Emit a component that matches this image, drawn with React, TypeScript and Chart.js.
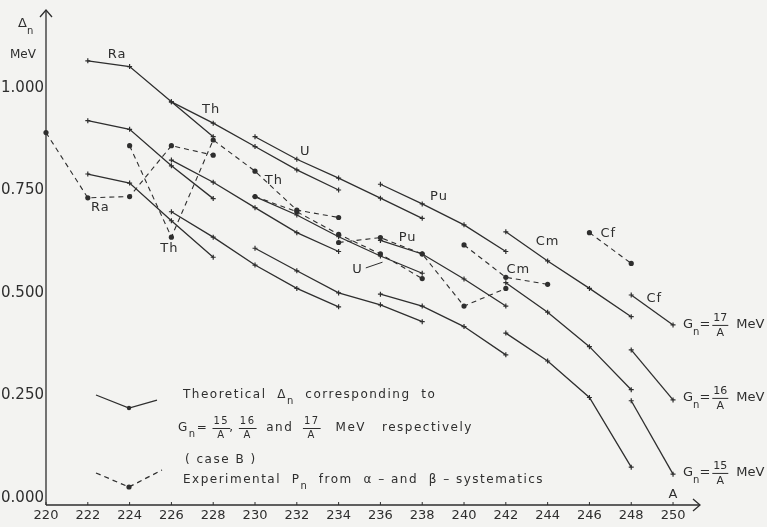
import React, { useEffect, useRef } from "react";
import { Chart, registerables } from "chart.js";

Chart.register(...registerables);

// ---------- axis ticks ----------
const A_TICKS = [220, 222, 224, 226, 228, 230, 232, 234, 236, 238, 240, 242, 244, 246, 248, 250];
const Y_TICKS = [0, 0.25, 0.5, 0.75, 1.0];
const Y_TICK_LABELS = ["0.000", "0.250", "0.500", "0.750", "1.000"];

// ---------- theoretical Δn (case B), Gn = 15/A, 16/A, 17/A ----------
const RA_A = [222, 224, 226, 228];
const RA_G15 = [0.795, 0.773, 0.681, 0.592];
const RA_G16 = [0.925, 0.904, 0.815, 0.735];
const RA_G17 = [1.071, 1.057, 0.971, 0.886];

const TH_A = [226, 228, 230, 232, 234];
const TH_G15 = [0.703, 0.641, 0.573, 0.516, 0.471];
const TH_G16 = [0.829, 0.775, 0.713, 0.652, 0.606];
const TH_G17 = [0.971, 0.919, 0.862, 0.805, 0.756];

const U_A = [230, 232, 234, 236, 238];
const U_G15 = [0.614, 0.559, 0.505, 0.476, 0.435];
const U_G16 = [0.740, 0.695, 0.642, 0.595, 0.553];
const U_G17 = [0.886, 0.831, 0.785, 0.736, 0.687];

const PU_A = [236, 238, 240, 242];
const PU_G15 = [0.502, 0.473, 0.423, 0.354];
const PU_G16 = [0.633, 0.600, 0.539, 0.473];
const PU_G17 = [0.770, 0.722, 0.671, 0.606];

const CM_A = [242, 244, 246, 248];
const CM_G15 = [0.407, 0.339, 0.250, 0.080];
const CM_G16 = [0.530, 0.458, 0.374, 0.269];
const CM_G17 = [0.654, 0.583, 0.516, 0.447];

const CF_A = [248, 250];
const CF_G15 = [0.242, 0.063];
const CF_G16 = [0.366, 0.244];
const CF_G17 = [0.500, 0.427];

// ---------- experimental Pn (α- and β-systematics) ----------
const RA_EXP_A = [220, 222, 224, 226, 228];
const RA_EXP = [0.896, 0.737, 0.740, 0.864, 0.841];
const TH_EXP_A = [224, 226, 228, 230, 232, 234];
const TH_EXP = [0.864, 0.641, 0.878, 0.802, 0.707, 0.689];
const U_EXP_A = [230, 232, 234, 236, 238];
const U_EXP = [0.740, 0.703, 0.648, 0.600, 0.540];
const PU_EXP_A = [234, 236, 238, 240, 242];
const PU_EXP = [0.628, 0.640, 0.600, 0.473, 0.516];
const CM_EXP_A = [240, 242, 244];
const CM_EXP = [0.622, 0.543, 0.526];
const CF_EXP_A = [246, 248];
const CF_EXP = [0.652, 0.577];

// ---------- element labels (data coordinates) ----------
const LABEL_TEXT = ["Ra", "Th", "U", "Pu", "Cm", "Cf", "Cf", "Cm", "Pu", "U", "Th", "Ra", "Th"];
const LABEL_A = [223.4, 227.9, 232.4, 238.8, 244.0, 246.9, 249.1, 242.6, 237.3, 234.9, 230.9, 222.6, 225.9];
const LABEL_V = [1.085, 0.951, 0.849, 0.739, 0.629, 0.649, 0.490, 0.563, 0.641, 0.563, 0.780, 0.712, 0.612];

// ---------- right-hand G labels ----------
const G_NUM = ["17", "16", "15"];
const G_V = [0.427, 0.249, 0.066];

const INK = "#2e2e2e";
const BG = "#f3f3f1";
const FONT = '"DejaVu Sans", sans-serif';

type Seg = string | number | { sub: string } | { num: string; den: string };

function drawRich(ctx: CanvasRenderingContext2D, x: number, y: number, segs: Seg[], size: number) {
  let cx = x;
  ctx.textBaseline = "middle";
  ctx.textAlign = "left";
  for (const s of segs) {
    if (typeof s === "number") {
      cx += s;
      continue;
    }
    if (typeof s === "string") {
      ctx.font = `${size}px ${FONT}`;
      ctx.fillText(s, cx, y);
      cx += ctx.measureText(s).width;
    } else if ("sub" in s) {
      ctx.font = `${Math.round(size * 0.8)}px ${FONT}`;
      ctx.fillText(s.sub, cx, y + size * 0.55);
      cx += ctx.measureText(s.sub).width;
    } else {
      ctx.font = `${Math.round(size * 0.85)}px ${FONT}`;
      const w = Math.max(ctx.measureText(s.num).width, ctx.measureText(s.den).width);
      ctx.textAlign = "center";
      ctx.fillText(s.num, cx + w / 2, y - size * 0.55);
      ctx.fillText(s.den, cx + w / 2, y + size * 0.6);
      ctx.textAlign = "left";
      ctx.beginPath();
      ctx.moveTo(cx - 1, y + 0.5);
      ctx.lineTo(cx + w + 1, y + 0.5);
      ctx.lineWidth = 1;
      ctx.stroke();
      cx += w;
    }
  }
}

const overlay = {
  id: "overlay",
  beforeDraw(chart: any) {
    const ctx = chart.ctx as CanvasRenderingContext2D;
    ctx.save();
    ctx.fillStyle = BG;
    ctx.fillRect(0, 0, chart.width, chart.height);
    ctx.restore();
  },
  afterDraw(chart: any) {
    const ctx = chart.ctx as CanvasRenderingContext2D;
    const xs = chart.scales.x;
    const ys = chart.scales.y;
    const ca = chart.chartArea;
    ctx.save();
    ctx.strokeStyle = INK;
    ctx.fillStyle = INK;
    ctx.lineWidth = 1.3;
    ctx.setLineDash([]);

    // axes
    ctx.beginPath();
    ctx.moveTo(ca.left, ca.bottom);
    ctx.lineTo(ca.right, ca.bottom);
    ctx.moveTo(ca.left, ca.bottom);
    ctx.lineTo(ca.left, ca.top);
    ctx.stroke();
    // arrow heads
    ctx.beginPath();
    ctx.moveTo(ca.right - 7, ca.bottom - 6);
    ctx.lineTo(ca.right, ca.bottom);
    ctx.lineTo(ca.right - 7, ca.bottom + 6);
    ctx.moveTo(ca.left - 6, ca.top + 7);
    ctx.lineTo(ca.left, ca.top);
    ctx.lineTo(ca.left + 6, ca.top + 7);
    ctx.stroke();

    // x ticks + labels
    ctx.font = `13px ${FONT}`;
    (ctx as any).letterSpacing = "0px";
    ctx.textAlign = "center";
    ctx.textBaseline = "top";
    ctx.lineWidth = 1;
    for (const a of A_TICKS) {
      const px = xs.getPixelForValue(a);
      ctx.beginPath();
      ctx.moveTo(px, ca.bottom);
      ctx.lineTo(px, ca.bottom - 3);
      ctx.stroke();
      ctx.fillText(String(a), px, ca.bottom + 4);
    }
    // y labels
    ctx.textAlign = "right";
    ctx.textBaseline = "middle";
    ctx.font = `15px ${FONT}`;
    Y_TICKS.forEach((v, i) => {
      ctx.fillText(Y_TICK_LABELS[i], ca.left - 2, ys.getPixelForValue(v) - 2);
    });

    // axis titles
    ctx.textAlign = "left";
    drawRich(ctx, 18, 24, ["Δ", { sub: "n" }], 13);
    ctx.font = `12px ${FONT}`;
    ctx.fillText("MeV", 10, 55);
    ctx.textAlign = "center";
    ctx.font = `13px ${FONT}`;
    ctx.fillText("A", xs.getPixelForValue(250), ca.bottom - 10);

    // element labels
    ctx.font = `13px ${FONT}`;
    (ctx as any).letterSpacing = "1px";
    ctx.textAlign = "center";
    ctx.textBaseline = "middle";
    LABEL_TEXT.forEach((t, i) => {
      ctx.fillText(t, xs.getPixelForValue(LABEL_A[i]), ys.getPixelForValue(LABEL_V[i]));
    });
    // U leader line
    ctx.beginPath();
    ctx.lineWidth = 1;
    ctx.moveTo(xs.getPixelForValue(235.3), ys.getPixelForValue(0.566));
    ctx.lineTo(xs.getPixelForValue(236.1), ys.getPixelForValue(0.580));
    ctx.stroke();

    // right-hand G labels
    (ctx as any).letterSpacing = "0px";
    G_NUM.forEach((n, i) => {
      const y = ys.getPixelForValue(G_V[i]);
      drawRich(ctx, 683, y, ["G", { sub: "n" }, "=", 3, { num: n, den: "A" }, 9, "MeV"], 13);
    });

    // legend
    ctx.lineWidth = 1.3;
    ctx.beginPath();
    ctx.moveTo(96, 395);
    ctx.lineTo(129, 408);
    ctx.lineTo(157, 400);
    ctx.stroke();
    ctx.beginPath();
    ctx.arc(129, 408, 2.2, 0, Math.PI * 2);
    ctx.fill();
    ctx.setLineDash([5, 4]);
    ctx.beginPath();
    ctx.moveTo(96, 473);
    ctx.lineTo(129, 487);
    ctx.lineTo(162, 470);
    ctx.stroke();
    ctx.setLineDash([]);
    ctx.beginPath();
    ctx.arc(129, 487, 2.6, 0, Math.PI * 2);
    ctx.fill();

    (ctx as any).letterSpacing = "1.5px";
    drawRich(ctx, 183, 395, ["Theoretical  Δ", { sub: "n" }, "  corresponding  to"], 12);
    drawRich(
      ctx,
      178,
      428,
      ["G", { sub: "n" }, "= ", { num: "15", den: "A" }, ", ", { num: "16", den: "A" }, "  and  ", { num: "17", den: "A" }, "   MeV   respectively"],
      12
    );
    drawRich(ctx, 185, 460, ["( case B )"], 12);
    drawRich(ctx, 183, 480, ["Experimental  P", { sub: "n" }, "  from  α – and  β – systematics"], 12);

    ctx.restore();
  },
};

export default function App() {
  const ref = useRef<HTMLCanvasElement>(null);
  useEffect(() => {
    const canvas = ref.current!;
    const theo = (a: number[], v: number[]) => ({
      data: a.map((x, i) => ({ x, y: v[i] })),
      borderColor: INK,
      borderWidth: 1.3,
      pointStyle: "cross",
      pointRadius: 2.5,
      pointBorderWidth: 1.2,
      pointBorderColor: INK,
      pointBackgroundColor: INK,
      fill: false,
      tension: 0,
      clip: false,
    });
    const exp = (a: number[], v: number[]) => ({
      data: a.map((x, i) => ({ x, y: v[i] })),
      borderColor: INK,
      borderWidth: 1.1,
      borderDash: [5, 4],
      pointStyle: "circle",
      pointRadius: 2.6,
      pointBorderWidth: 0,
      pointBackgroundColor: INK,
      fill: false,
      tension: 0,
      clip: false,
    });
    const datasets: any[] = [
      theo(RA_A, RA_G15), theo(RA_A, RA_G16), theo(RA_A, RA_G17),
      theo(TH_A, TH_G15), theo(TH_A, TH_G16), theo(TH_A, TH_G17),
      theo(U_A, U_G15), theo(U_A, U_G16), theo(U_A, U_G17),
      theo(PU_A, PU_G15), theo(PU_A, PU_G16), theo(PU_A, PU_G17),
      theo(CM_A, CM_G15), theo(CM_A, CM_G16), theo(CM_A, CM_G17),
      theo(CF_A, CF_G15), theo(CF_A, CF_G16), theo(CF_A, CF_G17),
      exp(RA_EXP_A, RA_EXP), exp(TH_EXP_A, TH_EXP), exp(U_EXP_A, U_EXP),
      exp(PU_EXP_A, PU_EXP), exp(CM_EXP_A, CM_EXP), exp(CF_EXP_A, CF_EXP),
    ];
    const chart = new Chart(canvas, {
      type: "line",
      data: { datasets },
      options: {
        animation: false,
        responsive: false,
        devicePixelRatio: 1,
        layout: { padding: { left: 46, right: 67, top: 10, bottom: 22 } },
        scales: {
          x: { type: "linear", min: 220, max: 251.29, display: false },
          y: { type: "linear", min: -0.0122, max: 1.195, display: false },
        },
        plugins: { legend: { display: false }, tooltip: { enabled: false } },
      },
      plugins: [overlay],
    } as any);
    return () => chart.destroy();
  }, []);
  return (
    <div style={{ position: "absolute", left: 0, top: 0, width: 767, height: 527 }}>
      <canvas ref={ref} width={767} height={527} style={{ display: "block" }} />
    </div>
  );
}
